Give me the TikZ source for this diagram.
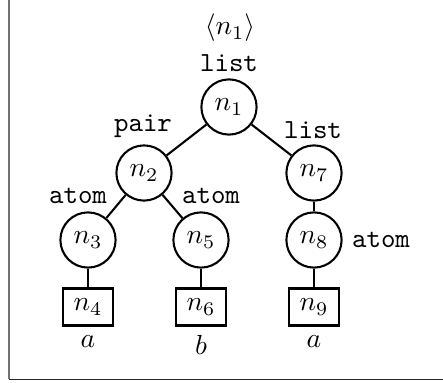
\documentclass[tikz,border=0pt]{standalone}
\begin{document}
\begin{tikzpicture}[x=0.3623pt,y=-0.3623pt,
  inner/.style={circle,draw,line width=0.75pt,minimum size=20pt,inner sep=0pt},
  leaf/.style={rectangle,draw,line width=0.75pt,minimum width=18pt,minimum height=13.4pt,inner sep=0pt},
  tag/.style={font=\ttfamily,inner sep=0pt},
  edge/.style={line width=0.75pt}]
\useasboundingbox (0,0) rectangle (443,383);
% open frame: left and bottom sides
\draw[line width=0.55pt,black!55] (9,0) -- (9,379.5);
\draw[line width=0.7pt,black!85] (9,379.5) -- (443,379.5);
% tree nodes
\node[inner] (n1) at (229,107) {$n_1$};
\node[inner] (n2) at (144,173) {$n_2$};
\node[inner] (n7) at (314,173) {$n_7$};
\node[inner] (n3) at (88,240) {$n_3$};
\node[inner] (n5) at (201,240) {$n_5$};
\node[inner] (n8) at (314,240) {$n_8$};
\node[leaf] (n4) at (88,307) {$n_4$};
\node[leaf] (n6) at (201,307) {$n_6$};
\node[leaf] (n9) at (314,307) {$n_9$};
% annotations
\node[inner sep=0pt] (root) at (230,28) {$\langle n_1\rangle$};
\node[tag] (t1) at (229,63) {list};
\node[tag] (t2) at (143,126) {pair};
\node[tag] (t7) at (313,130) {list};
\node[tag] (t3) at (78,196) {atom};
\node[tag] (t5) at (211,196) {atom};
\node[tag] (t8) at (381,240) {atom};
\node[inner sep=0pt,anchor=north] (v4) at (n4.south) [yshift=-3pt] {$a$};
\node[inner sep=0pt,anchor=north] (v6) at (n6.south) [yshift=-3pt] {$b$};
\node[inner sep=0pt,anchor=north] (v9) at (n9.south) [yshift=-3pt] {$a$};
% connectors
\draw[edge] (n1) -- (n2);
\draw[edge] (n1) -- (n7);
\draw[edge] (n2) -- (n3);
\draw[edge] (n2) -- (n5);
\draw[edge] (n7) -- (n8);
\draw[edge] (n3) -- (n4);
\draw[edge] (n5) -- (n6);
\draw[edge] (n8) -- (n9);
\end{tikzpicture}
\end{document}
